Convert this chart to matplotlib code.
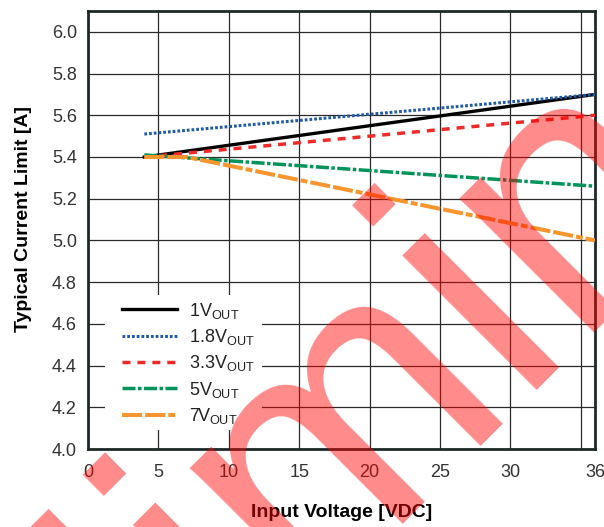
import numpy as np
import matplotlib
matplotlib.use("Agg")
import matplotlib.pyplot as plt
from matplotlib.patches import Rectangle

plt.rcParams['font.family'] = ['Liberation Sans', 'DejaVu Sans']

# Data
vin_1v = [4, 36]
cur_1v = [5.40, 5.70]
vin_18v = [4, 36]
cur_18v = [5.51, 5.70]
vin_33v = [4, 36]
cur_33v = [5.40, 5.60]
vin_5v = [4, 36]
cur_5v = [5.41, 5.26]
vin_7v = [4, 7, 36]
cur_7v = [5.40, 5.40, 5.00]

labels = ["1V", "1.8V", "3.3V", "5V", "7V"]
x_ticks = [0, 5, 10, 15, 20, 25, 30, 36]
y_ticks = [4.0, 4.2, 4.4, 4.6, 4.8, 5.0, 5.2, 5.4, 5.6, 5.8, 6.0]

W, H = 604, 527
fig = plt.figure(figsize=(W / 100, H / 100), dpi=100)
ax = fig.add_axes([88 / W, 1 - 449 / H, (595 - 88) / W, (449 - 11) / H])

series = [
    (vin_1v, cur_1v, "#000000", 2.4, "-"),
    (vin_18v, cur_18v, "#1f5aa6", 2.2, (0, (0.9, 0.65))),
    (vin_33v, cur_33v, "#ee2a2a", 2.5, (0, (2.3, 2.0))),
    (vin_5v, cur_5v, "#00935a", 2.5, (0, (3.75, 0.72, 1.0, 0.72))),
    (vin_7v, cur_7v, "#f7962e", 2.9, (0, (5, 0.75, 5, 0.75, 1.7, 0.75))),
]
for (x, y, col, lw, ls), lab in zip(series, labels):
    ax.plot(x, y, color=col, lw=lw, linestyle=ls, zorder=3,
            label=lab + r"$_{\mathregular{OUT}}$")

ax.set_xlim(0, 36)
ax.set_ylim(4.0, 6.1)
ax.set_xticks(x_ticks)
ax.set_xticklabels([str(t) for t in x_ticks])
ax.set_yticks(y_ticks)
ax.set_yticklabels([f"{t:.1f}" for t in y_ticks])
ax.set_xticks([35], minor=True)
ax.grid(True, which="both", color="#2a2a2a", lw=0.9, zorder=1)
ax.tick_params(which="both", length=0, labelsize=13, labelcolor="#333333")
ax.tick_params(axis="y", pad=8)
ax.tick_params(axis="x", pad=11)
for s in ax.spines.values():
    s.set_linewidth(2.0)
    s.set_color("#1e2a28")

ax.set_xlabel("Input Voltage [VDC]", fontsize=14, fontweight="bold")
ax.set_ylabel("Typical Current Limit [A]", fontsize=14, fontweight="bold")
ax.xaxis.set_label_coords(0.5, -0.125)
ax.yaxis.set_label_coords(-0.110, 0.525)

# white box behind the legend, hides the grid
ax.add_patch(Rectangle((17 / 507, 19 / 438), 157 / 507, 135 / 438,
                       transform=ax.transAxes, facecolor="white",
                       edgecolor="none", zorder=2))
leg = ax.legend(loc="lower left", bbox_to_anchor=(34 / 507, 23 / 438), borderaxespad=0,
                fontsize=13, frameon=False, handlelength=3.05, handletextpad=0.67,
                labelspacing=0.35, borderpad=0)
leg.set_zorder(4)
for t in leg.get_texts():
    t.set_color("#222222")

# watermark over everything
fig.text(-212 / W, 1 - 1109 / H, "Preliminary", fontsize=260,
         family=["Liberation Sans", "DejaVu Sans"], color="red", alpha=0.46,
         rotation=45, rotation_mode="anchor", ha="left", va="baseline", zorder=10)

fig.savefig("out.png", dpi=100)
